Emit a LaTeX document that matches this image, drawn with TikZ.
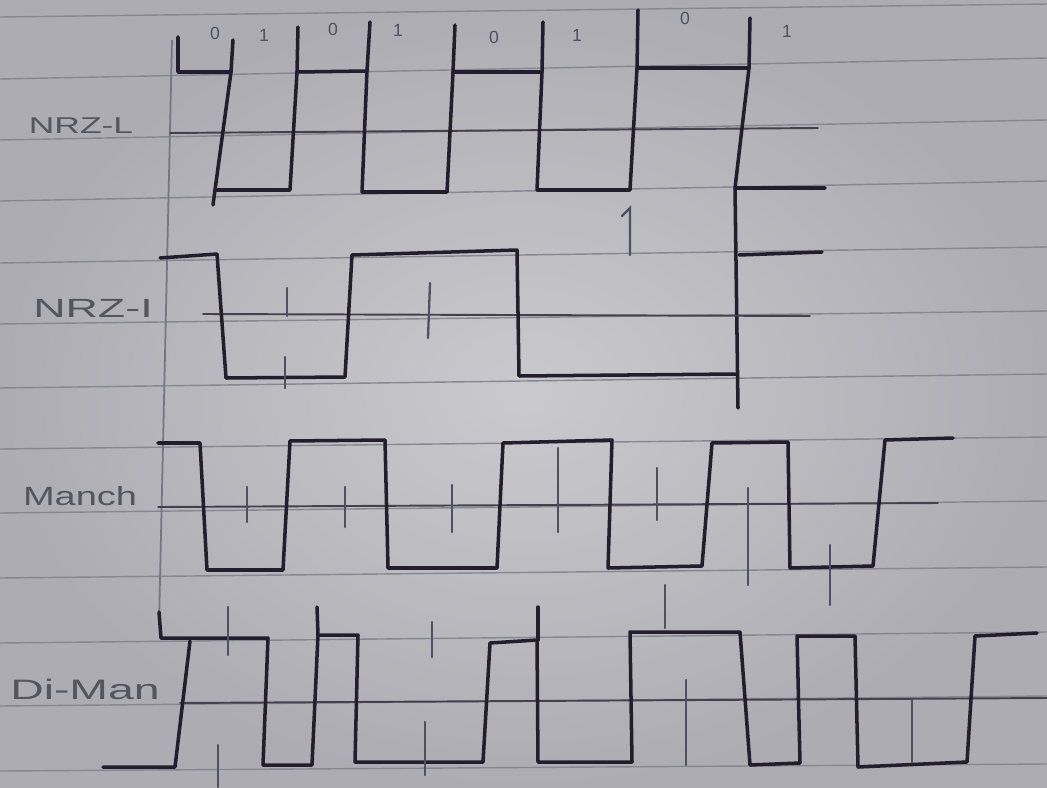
\documentclass[tikz,border=0pt]{standalone}
\usepackage{graphicx}
\usepackage{fontspec}
\setmainfont{Liberation Sans}
\definecolor{paper}{RGB}{202,202,206}
\definecolor{paperdark}{RGB}{172,172,178}
\definecolor{rulec}{RGB}{135,135,145}
\definecolor{ink}{RGB}{35,30,45}
\definecolor{pencil}{RGB}{80,80,100}
\definecolor{labelc}{RGB}{85,85,95}
\tikzset{
  wave/.style={draw=ink, line width=2pt, line join=round, line cap=round},
  axisline/.style={draw=ink!80!paper, line width=1.1pt, line cap=round},
  tickmark/.style={draw=pencil, line width=1.3pt, line cap=round},
  ruled/.style={draw=rulec, line width=0.8pt},
  marginline/.style={draw=pencil!70!paper, line width=1pt},
  lbl/.style={text=labelc, inner sep=0pt},
  bitlbl/.style={text=pencil, font=\fontsize{10}{10}\selectfont, inner sep=0pt},
}
\begin{document}
\begin{tikzpicture}[x=0.02cm,y=-0.02cm]
\useasboundingbox (0,0) rectangle (1047,787);
\shade[inner color=paper, outer color=paperdark] (0,0) rectangle (1047,787);
% ruled lines of the paper
\foreach \a/\b in {17/4,79/58,140/120,201/181,263/247,324/311,388/374,449/437,513/501,578/567,643/632,706/696,771/764}
  \draw[ruled] (0,\a) -- (1047,\b);
% margin pencil line
\draw[marginline] (172,40) -- (159,625);

% ---------- NRZ-L ----------
\draw[axisline] (170,133) -- (818,128);
\draw[wave] (178,37) -- (178,72) -- (231,72) -- (215,190) -- (290,190) -- (297,72) -- (367,71)
  -- (362,192) -- (447,192) -- (453,72) -- (542,72) -- (537,190) -- (630,190) -- (637,68)
  -- (749,68) -- (735,188) -- (825,188);
\draw[wave] (231,72) -- (233,40);
\draw[wave] (215,190) -- (213,205);
\draw[wave] (297,72) -- (298,27);
\draw[wave] (367,71) -- (370,22);
\draw[wave] (453,72) -- (455,25);
\draw[wave] (542,72) -- (543,22);
\draw[wave] (637,68) -- (638,10);
\draw[wave] (749,68) -- (750,18);
\draw[wave] (735,188) -- (738,408);

\node[bitlbl] (b0) at (215,33) {0};
\node[bitlbl] (b1) at (264,35) {1};
\node[bitlbl] (b2) at (333,29) {0};
\node[bitlbl] (b3) at (398,30) {1};
\node[bitlbl] (b4) at (494,37) {0};
\node[bitlbl] (b5) at (577,35) {1};
\node[bitlbl] (b6) at (685,18) {0};
\node[bitlbl] (b7) at (787,31) {1};

% ---------- NRZ-I ----------
\draw[axisline] (203,314) -- (810,316);
\draw[wave] (160,258) -- (217,254) -- (226,378) -- (345,377) -- (352,255) -- (517,250)
  -- (519,376) -- (737,374);
\draw[wave] (739,255) -- (822,252);
\draw[tickmark] (287,288) -- (287,316);
\draw[tickmark] (285,357) -- (285,388);
\draw[tickmark] (430,283) -- (428,338);
\draw[tickmark] (622,216) -- (630,208) -- (630,255);

% ---------- Manchester ----------
\draw[axisline] (158,507) -- (938,503);
\draw[wave] (158,443) -- (200,443) -- (207,570) -- (283,570) -- (290,441) -- (385,440)
  -- (388,568) -- (497,568) -- (503,443) -- (612,440) -- (608,568) -- (702,566)
  -- (712,443) -- (788,442) -- (790,568) -- (873,566) -- (885,440) -- (953,438);
\draw[tickmark] (247,487) -- (247,522);
\draw[tickmark] (345,487) -- (345,527);
\draw[tickmark] (452,485) -- (452,532);
\draw[tickmark] (558,448) -- (558,532);
\draw[tickmark] (657,468) -- (657,520);
\draw[tickmark] (748,488) -- (748,585);
\draw[tickmark] (830,545) -- (830,605);

% ---------- Differential Manchester ----------
\draw[axisline] (180,703) -- (1047,698);
\draw[wave] (159,612) -- (161,638) -- (268,638) -- (263,765) -- (312,765) -- (318,635)
  -- (358,635) -- (355,762) -- (483,762) -- (490,643) -- (537,640) -- (538,762)
  -- (632,762) -- (630,632) -- (740,632) -- (750,765) -- (800,763) -- (797,636)
  -- (855,636) -- (858,767) -- (967,762) -- (975,636) -- (1037,633);
\draw[wave] (103,767) -- (175,767) -- (190,641);
\draw[wave] (318,635) -- (317,607);
\draw[wave] (538,640) -- (538,607);
\draw[tickmark] (228,607) -- (228,655);
\draw[tickmark] (218,745) -- (218,787);
\draw[tickmark] (432,622) -- (432,657);
\draw[tickmark] (425,722) -- (425,775);
\draw[tickmark] (665,585) -- (665,628);
\draw[tickmark] (686,680) -- (686,765);
\draw[tickmark] (912,700) -- (912,762);

% ---------- labels ----------
\node[lbl, font=\fontsize{13}{13}\selectfont] (lnrzl) at (81,126) {\scalebox{1.55}[1]{NRZ-L}};
\node[lbl, font=\fontsize{15}{15}\selectfont] (lnrzi) at (93,308) {\scalebox{1.7}[1]{NRZ-I}};
\node[lbl, font=\fontsize{15}{15}\selectfont] (lmanch) at (80,496) {\scalebox{1.44}[1]{Manch}};
\node[lbl, font=\fontsize{16}{16}\selectfont] (ldiman) at (85,689) {\scalebox{1.65}[1]{Di-Man}};
\end{tikzpicture}
\end{document}
